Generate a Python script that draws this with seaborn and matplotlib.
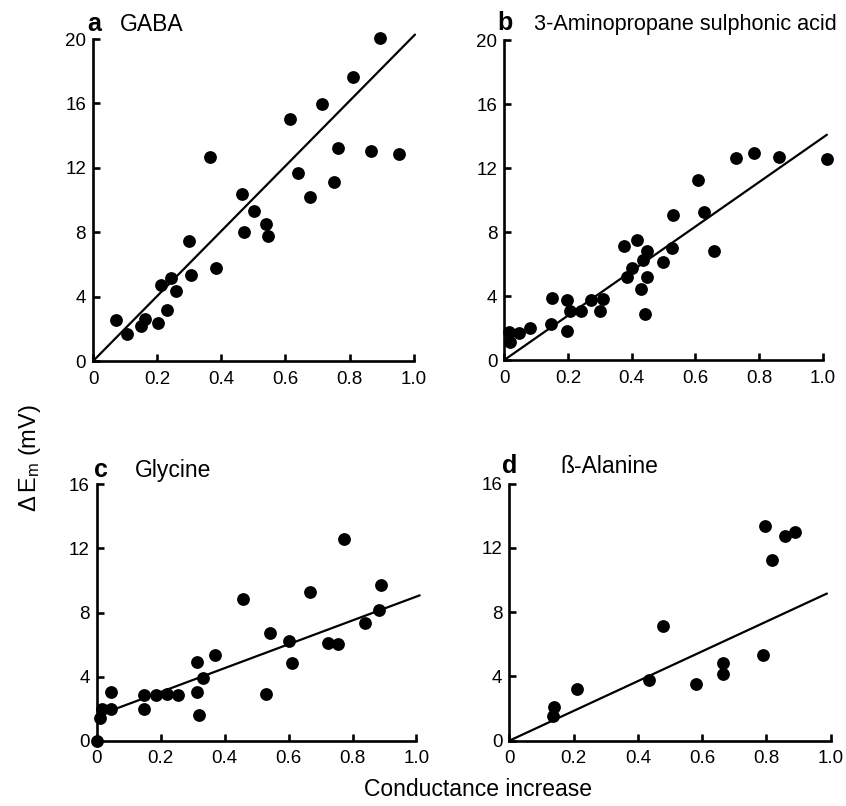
import numpy as np
import pandas as pd
import matplotlib
matplotlib.use('Agg')
import matplotlib.pyplot as plt
import seaborn as sns

# GABA
gaba_x = [0.071, 0.106, 0.149, 0.161, 0.201, 0.211, 0.232, 0.242, 0.260, 0.298, 0.307, 0.364, 0.383,
          0.464, 0.470, 0.501, 0.540, 0.547, 0.613, 0.640, 0.678, 0.715, 0.752, 0.765, 0.810, 0.868,
          0.896, 0.953]
gaba_y = [2.57, 1.70, 2.16, 2.63, 2.37, 4.71, 3.15, 5.19, 4.36, 7.47, 5.37, 12.68, 5.79,
          10.37, 7.99, 9.32, 8.53, 7.78, 15.06, 11.68, 10.21, 15.98, 11.10, 13.24, 17.66, 13.07,
          20.06, 12.86]

# 3-Aminopropane sulphonic acid
apsa_x = [0.016, 0.018, 0.047, 0.081, 0.147, 0.150, 0.196, 0.197, 0.206, 0.240, 0.274, 0.301, 0.311,
          0.376, 0.384, 0.401, 0.416, 0.431, 0.437, 0.442, 0.447, 0.449, 0.497, 0.528, 0.531,
          0.608, 0.627, 0.660, 0.729, 0.785, 0.862, 1.013]
apsa_y = [1.73, 1.10, 1.69, 1.98, 2.23, 3.90, 3.75, 1.81, 3.06, 3.06, 3.73, 3.08, 3.83,
          7.15, 5.17, 5.75, 7.50, 4.42, 6.25, 2.88, 6.83, 5.17, 6.10, 6.98, 9.06,
          11.25, 9.23, 6.83, 12.60, 12.92, 12.71, 12.56]

# Glycine
gly_x = [0.0, 0.010, 0.016, 0.045, 0.045, 0.148, 0.148, 0.184, 0.219, 0.253, 0.313, 0.313, 0.321,
         0.331, 0.370, 0.458, 0.528, 0.542, 0.600, 0.611, 0.667, 0.723, 0.755, 0.774, 0.839,
         0.883, 0.889]
gly_y = [0.0, 1.39, 1.96, 1.96, 3.06, 2.00, 2.83, 2.83, 2.91, 2.83, 4.91, 3.06, 1.62,
         3.89, 5.33, 8.82, 2.91, 6.74, 6.20, 4.85, 9.30, 6.10, 6.01, 12.61, 7.34,
         8.14, 9.70]

# beta-Alanine
bala_x = [0.135, 0.140, 0.210, 0.436, 0.477, 0.582, 0.666, 0.666, 0.788, 0.795, 0.817, 0.857, 0.889]
bala_y = [1.55, 2.11, 3.23, 3.75, 7.13, 3.50, 4.17, 4.85, 5.35, 13.39, 11.27, 12.77, 12.97]

# fitted lines: (slope, intercept, x end)
fits = {
    'a': (20.2, 0.0, 1.004),
    'b': (13.9, 0.0, 1.013),
    'c': (7.45, 1.55, 1.01),
    'd': (9.27, 0.0, 0.988),
}

panel_letters = ['a', 'b', 'c', 'd']
panel_names = ['GABA', '3-Aminopropane sulphonic acid', 'Glycine', 'ß-Alanine']
y_max = [20, 20, 16, 16]
y_ticks = [[0, 4, 8, 12, 16, 20], [0, 4, 8, 12, 16, 20], [0, 4, 8, 12, 16], [0, 4, 8, 12, 16]]
x_ticks = [0, 0.2, 0.4, 0.6, 0.8, 1.0]
x_ticklabels = ['0', '0.2', '0.4', '0.6', '0.8', '1.0']

sns.set_theme(style='ticks')
plt.rcParams['font.family'] = ['Liberation Sans', 'DejaVu Sans']
plt.rcParams['mathtext.fontset'] = 'custom'
plt.rcParams['mathtext.rm'] = 'Liberation Sans'
plt.rcParams['mathtext.it'] = 'Liberation Sans'
plt.rcParams['text.color'] = 'black'

fig = plt.figure(figsize=(8.46, 8.06), dpi=100)
rects = [
    [0.110, 0.552, 0.379, 0.3995],
    [0.596, 0.5533, 0.3765, 0.397],
    [0.1143, 0.081, 0.378, 0.318],
    [0.602, 0.081, 0.380, 0.319],
]
title_pos = [
    (-0.018, 0.084, 1.025),
    (-0.022, 0.094, 1.031),
    (-0.008, 0.12, 1.03),
    (-0.022, 0.158, 1.043),
]
title_size = [16.5, 15.6, 16.5, 16.5]
datasets = [(gaba_x, gaba_y), (apsa_x, apsa_y), (gly_x, gly_y), (bala_x, bala_y)]

for i, r in enumerate(rects):
    ax = fig.add_axes(r)
    xs, ys = datasets[i]
    df = pd.DataFrame({'x': xs, 'y': ys})
    sns.scatterplot(data=df, x='x', y='y', ax=ax, color='black', s=85,
                    edgecolor='black', linewidth=0, clip_on=False, zorder=3)
    slope, icpt, xend = fits[panel_letters[i]]
    line = pd.DataFrame({'x': [0.0, xend], 'y': [icpt, icpt + slope * xend]})
    sns.lineplot(data=line, x='x', y='y', ax=ax, color='black', linewidth=1.6, clip_on=False)

    ax.set_xlim(0, 1.0)
    ax.set_ylim(0, y_max[i])
    ax.set_xticks(x_ticks)
    ax.set_xticklabels(x_ticklabels)
    ax.set_yticks(y_ticks[i])
    ax.set_xlabel('')
    ax.set_ylabel('')
    sns.despine(ax=ax)
    for s in ['left', 'bottom']:
        ax.spines[s].set_linewidth(1.9)
        ax.spines[s].set_color('black')
    ax.tick_params(axis='both', direction='in', length=5, width=1.9, colors='black',
                   labelsize=13.5)
    ax.tick_params(axis='x', pad=7)
    ax.tick_params(axis='y', pad=5)

    lx, nx, ty = title_pos[i]
    ax.text(lx, ty, panel_letters[i], transform=ax.transAxes, fontsize=18,
            fontweight='bold', ha='left', va='baseline')
    ax.text(nx, ty, panel_names[i], transform=ax.transAxes, fontsize=title_size[i],
            ha='left', va='baseline')

fig.text(0.565, 0.02, 'Conductance increase', fontsize=16.5, ha='center', va='center')
fig.text(0.036, 0.432, r'$\Delta\,\mathrm{E_m}$ (mV)', fontsize=17, rotation=90,
         ha='center', va='center')

fig.savefig('out.png', dpi=100, facecolor='white')
